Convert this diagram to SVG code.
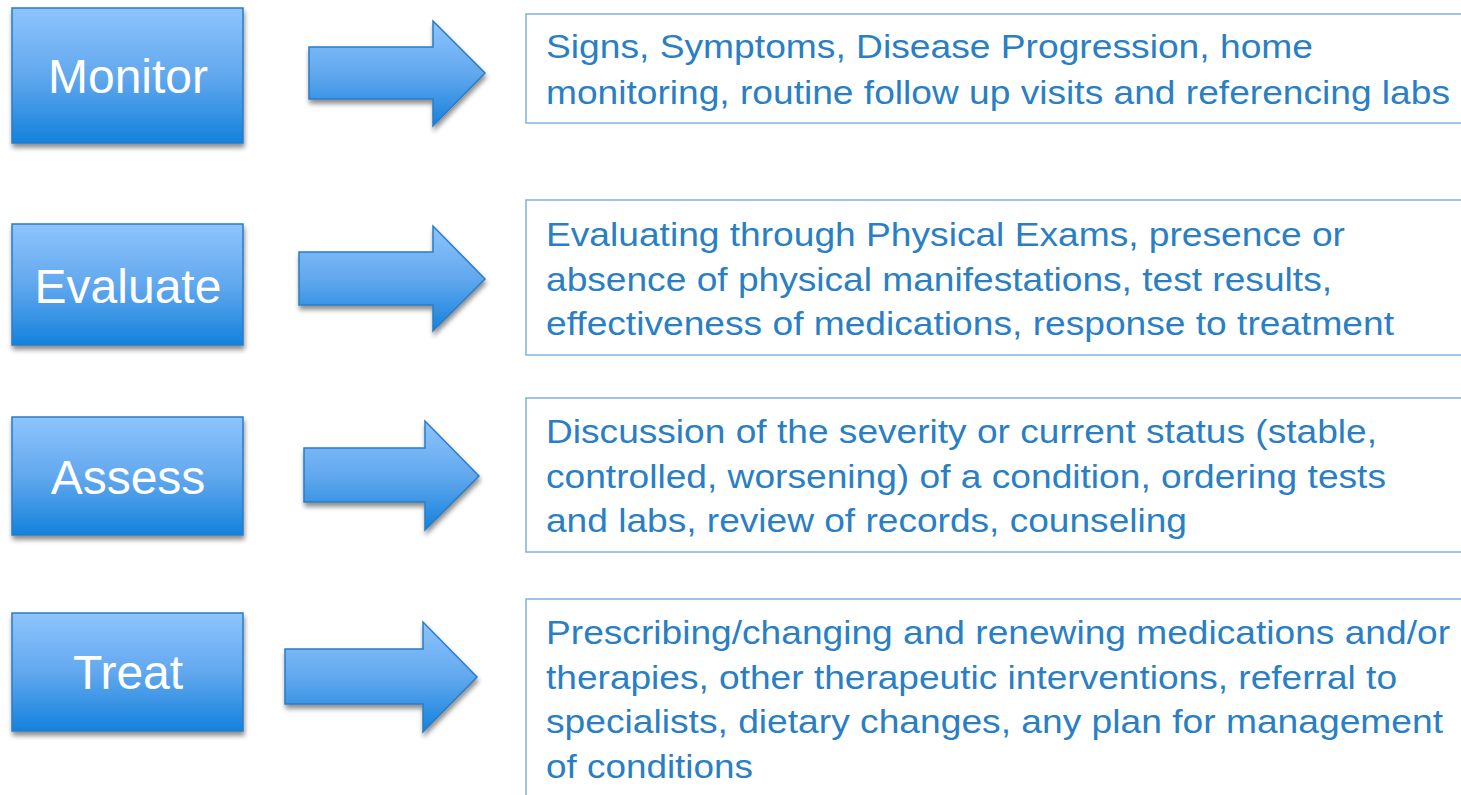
<svg xmlns="http://www.w3.org/2000/svg" width="1461" height="795" viewBox="0 0 1461 795">
<defs>
<linearGradient id="gBox" x1="0" y1="0" x2="0" y2="1">
<stop offset="0" stop-color="#8dc4fd"/>
<stop offset="0.5" stop-color="#62a8ee"/>
<stop offset="1" stop-color="#1482dc"/>
</linearGradient>
<filter id="sh" x="-10%" y="-10%" width="125%" height="130%">
<feGaussianBlur in="SourceAlpha" stdDeviation="2.5"/>
<feOffset dx="1" dy="4" result="b"/>
<feComponentTransfer><feFuncA type="linear" slope="0.45"/></feComponentTransfer>
<feMerge><feMergeNode/><feMergeNode in="SourceGraphic"/></feMerge>
</filter>
</defs>
<style>
.box{fill:url(#gBox);stroke:#2a7cc6;stroke-width:1.5;filter:url(#sh)}
.arr{fill:url(#gBox);stroke:#2a7cc6;stroke-width:1.5;filter:url(#sh)}
.lbl{font-family:"Liberation Sans",Arial,sans-serif;font-size:48px;fill:#ffffff;text-anchor:middle}
.tb{fill:#ffffff;stroke:#7fb4dc;stroke-width:1.5}
.tx{font-family:"Liberation Sans",Arial,sans-serif;font-size:34px;fill:#2a7fc4}
</style>
<rect width="1461" height="795" fill="#ffffff"/>
<g id="node-monitor">
<rect class="box" x="12" y="8" width="231" height="135"/>
<text class="lbl" x="128" y="93">Monitor</text>
</g>
<g id="node-evaluate">
<rect class="box" x="12" y="224" width="231" height="121"/>
<text class="lbl" x="128" y="303">Evaluate</text>
</g>
<g id="node-assess">
<rect class="box" x="12" y="417" width="231" height="118"/>
<text class="lbl" x="128" y="494">Assess</text>
</g>
<g id="node-treat">
<rect class="box" x="12" y="613" width="231" height="118"/>
<text class="lbl" x="128" y="689">Treat</text>
</g>
<g id="desc-monitor">
<rect class="tb" x="526" y="14" width="940" height="109"/>
<text class="tx" x="546" y="58" textLength="767" lengthAdjust="spacingAndGlyphs">Signs, Symptoms, Disease Progression, home</text>
<text class="tx" x="546" y="104" textLength="904" lengthAdjust="spacingAndGlyphs">monitoring, routine follow up visits and referencing labs</text>
</g>
<g id="desc-evaluate">
<rect class="tb" x="526" y="200" width="940" height="155"/>
<text class="tx" x="546" y="246" textLength="799" lengthAdjust="spacingAndGlyphs">Evaluating through Physical Exams, presence or</text>
<text class="tx" x="546" y="291" textLength="786" lengthAdjust="spacingAndGlyphs">absence of physical manifestations, test results,</text>
<text class="tx" x="546" y="335" textLength="848" lengthAdjust="spacingAndGlyphs">effectiveness of medications, response to treatment</text>
</g>
<g id="desc-assess">
<rect class="tb" x="526" y="398" width="940" height="154"/>
<text class="tx" x="546" y="443" textLength="831" lengthAdjust="spacingAndGlyphs">Discussion of the severity or current status (stable,</text>
<text class="tx" x="546" y="488" textLength="840" lengthAdjust="spacingAndGlyphs">controlled, worsening) of a condition, ordering tests</text>
<text class="tx" x="546" y="532" textLength="641" lengthAdjust="spacingAndGlyphs">and labs, review of records, counseling</text>
</g>
<g id="desc-treat">
<rect class="tb" x="526" y="599" width="940" height="220"/>
<text class="tx" x="546" y="644" textLength="904" lengthAdjust="spacingAndGlyphs">Prescribing/changing and renewing medications and/or</text>
<text class="tx" x="546" y="689" textLength="851" lengthAdjust="spacingAndGlyphs">therapies, other therapeutic interventions, referral to</text>
<text class="tx" x="546" y="733" textLength="897" lengthAdjust="spacingAndGlyphs">specialists, dietary changes, any plan for management</text>
<text class="tx" x="546" y="778" textLength="207" lengthAdjust="spacingAndGlyphs">of conditions</text>
</g>
<g id="connectors">
<path class="arr" d="M309,47 H433 V21 L485,73 L433,126 V99 H309 Z"/>
<path class="arr" d="M299,252 H433 V226 L485,279 L433,331 V305 H299 Z"/>
<path class="arr" d="M304,448 H425 V421 L479,476 L425,530 V502 H304 Z"/>
<path class="arr" d="M285,649 H423 V622 L477,677 L423,732 V704 H285 Z"/>
</g>
</svg>
